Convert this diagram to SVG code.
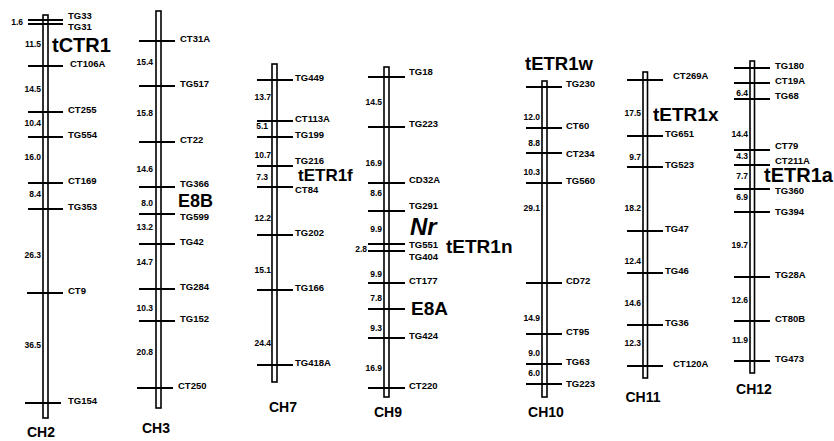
<svg xmlns="http://www.w3.org/2000/svg" width="834" height="441" viewBox="0 0 834 441">
<style>
.bar{fill:#fff;stroke:#000;stroke-width:1.6}
.tk{stroke:#000;stroke-width:2}
.m{font-family:"Liberation Sans",Arial,sans-serif;font-weight:bold;font-size:9.5px;fill:#000}
.d{font-family:"Liberation Sans",Arial,sans-serif;font-weight:bold;font-size:8.5px;fill:#000;text-anchor:end}
.g{font-family:"Liberation Sans",Arial,sans-serif;font-weight:bold;font-size:20px;fill:#000}
.ch{font-family:"Liberation Sans",Arial,sans-serif;font-weight:bold;font-size:14px;fill:#000;text-anchor:middle}
</style>
<rect width="834" height="441" fill="#fff"/>

<g id="CH2">
<rect class="bar" x="43" y="15" width="5" height="403"/>
<g class="tk">
<line x1="28" y1="20" x2="63" y2="20"/><line x1="28" y1="24" x2="63" y2="24"/>
<line x1="28" y1="66" x2="63" y2="66"/><line x1="28" y1="112" x2="63" y2="112"/>
<line x1="28" y1="137" x2="63" y2="137"/><line x1="28" y1="183" x2="63" y2="183"/>
<line x1="28" y1="209" x2="63" y2="209"/><line x1="27" y1="293" x2="63" y2="293"/>
<line x1="25" y1="403" x2="61" y2="403"/>
</g>
<text class="m" x="68" y="19">TG33</text><text class="m" x="68" y="30">TG31</text>
<text class="m" x="70" y="67">CT106A</text><text class="m" x="68" y="113">CT255</text>
<text class="m" x="68" y="138">TG554</text><text class="m" x="68" y="184">CT169</text>
<text class="m" x="68" y="210">TG353</text><text class="m" x="68" y="294">CT9</text>
<text class="m" x="68" y="404">TG154</text>
<text class="d" x="23" y="25">1.6</text><text class="d" x="41" y="47">11.5</text>
<text class="d" x="41" y="92">14.5</text><text class="d" x="41" y="126">10.4</text>
<text class="d" x="41" y="160">16.0</text><text class="d" x="41" y="197">8.4</text>
<text class="d" x="41" y="258">26.3</text><text class="d" x="41" y="348">36.5</text>
<text class="g" x="52" y="52">tCTR1</text>
<text class="ch" x="41" y="437">CH2</text>
</g>

<g id="CH3">
<rect class="bar" x="156" y="11" width="5" height="397"/>
<g class="tk">
<line x1="139" y1="41" x2="175" y2="41"/><line x1="139" y1="86" x2="175" y2="86"/>
<line x1="139" y1="142" x2="175" y2="142"/><line x1="139" y1="187" x2="175" y2="187"/>
<line x1="139" y1="214" x2="175" y2="214"/><line x1="139" y1="244" x2="175" y2="244"/>
<line x1="139" y1="289" x2="175" y2="289"/><line x1="139" y1="321" x2="175" y2="321"/>
<line x1="137" y1="388" x2="173" y2="388"/>
</g>
<text class="m" x="180" y="42">CT31A</text><text class="m" x="180" y="87">TG517</text>
<text class="m" x="180" y="143">CT22</text><text class="m" x="180" y="186.5">TG366</text>
<text class="m" x="180" y="220">TG599</text><text class="m" x="180" y="245">TG42</text>
<text class="m" x="180" y="290">TG284</text><text class="m" x="180" y="322">TG152</text>
<text class="m" x="178" y="389">CT250</text>
<text class="d" x="153" y="65">15.4</text><text class="d" x="153" y="116">15.8</text>
<text class="d" x="153" y="172">14.6</text><text class="d" x="153" y="206">8.0</text>
<text class="d" x="153" y="230">13.2</text><text class="d" x="153" y="265">14.7</text>
<text class="d" x="153" y="311">10.3</text><text class="d" x="153" y="355">20.8</text>
<text class="g" x="178" y="206.5" style="font-size:18px">E8B</text>
<text class="ch" x="156" y="433">CH3</text>
</g>

<g id="CH7">
<rect class="bar" x="272" y="64" width="5" height="318"/>
<g class="tk">
<line x1="257" y1="80" x2="293" y2="80"/><line x1="257" y1="121" x2="293" y2="121"/>
<line x1="257" y1="137" x2="293" y2="137"/><line x1="257" y1="166" x2="293" y2="166"/>
<line x1="257" y1="187" x2="293" y2="187"/><line x1="257" y1="235" x2="293" y2="235"/>
<line x1="257" y1="290" x2="293" y2="290"/><line x1="257" y1="365" x2="293" y2="365"/>
</g>
<text class="m" x="295" y="81">TG449</text><text class="m" x="295" y="122">CT113A</text>
<text class="m" x="295" y="138">TG199</text><text class="m" x="295" y="164">TG216</text>
<text class="m" x="295" y="193">CT84</text><text class="m" x="295" y="236">TG202</text>
<text class="m" x="295" y="291">TG166</text><text class="m" x="295" y="366">TG418A</text>
<text class="d" x="271" y="100">13.7</text><text class="d" x="268" y="129">5.1</text>
<text class="d" x="271" y="158">10.7</text><text class="d" x="268" y="180">7.3</text>
<text class="d" x="271" y="221">12.2</text><text class="d" x="271" y="273">15.1</text>
<text class="d" x="271" y="346">24.4</text>
<text class="g" x="298" y="181" style="font-size:17px">tETR1f</text>
<text class="ch" x="283" y="412">CH7</text>
</g>

<g id="CH9">
<rect class="bar" x="384" y="67" width="5" height="330"/>
<g class="tk">
<line x1="368" y1="77" x2="405" y2="77"/><line x1="368" y1="127" x2="405" y2="127"/>
<line x1="368" y1="183" x2="405" y2="183"/><line x1="368" y1="211" x2="405" y2="211"/>
<line x1="368" y1="244" x2="405" y2="244"/><line x1="368" y1="251" x2="405" y2="251"/>
<line x1="368" y1="283" x2="405" y2="283"/><line x1="368" y1="309" x2="405" y2="309"/>
<line x1="368" y1="338" x2="405" y2="338"/><line x1="368" y1="388" x2="405" y2="388"/>
</g>
<text class="m" x="409" y="75">TG18</text><text class="m" x="409" y="127">TG223</text>
<text class="m" x="409" y="183">CD32A</text><text class="m" x="409" y="209">TG291</text>
<text class="m" x="409" y="247.5">TG551</text><text class="m" x="409" y="260">TG404</text>
<text class="m" x="409" y="284">CT177</text><text class="m" x="409" y="339">TG424</text>
<text class="m" x="409" y="389">CT220</text>
<text class="d" x="382" y="105">14.5</text><text class="d" x="382" y="166">16.9</text>
<text class="d" x="382" y="196">8.6</text><text class="d" x="382" y="232">9.9</text>
<text class="d" x="367" y="252">2.8</text><text class="d" x="382" y="277">9.9</text>
<text class="d" x="382" y="301">7.8</text><text class="d" x="382" y="331">9.3</text>
<text class="d" x="382" y="371">16.9</text>
<text class="g" x="410" y="235" style="font-size:24px;font-style:italic">Nr</text>
<text class="g" x="446" y="253" style="font-size:19px">tETR1n</text>
<text class="g" x="411" y="315" style="font-size:19px">E8A</text>
<text class="ch" x="388" y="417">CH9</text>
</g>

<g id="CH10">
<rect class="bar" x="542" y="81" width="5" height="316"/>
<g class="tk">
<line x1="526" y1="87" x2="562" y2="87"/><line x1="526" y1="128" x2="562" y2="128"/>
<line x1="526" y1="153" x2="562" y2="153"/><line x1="526" y1="183" x2="562" y2="183"/>
<line x1="526" y1="283" x2="562" y2="283"/><line x1="526" y1="334" x2="562" y2="334"/>
<line x1="526" y1="364" x2="562" y2="364"/><line x1="526" y1="384" x2="562" y2="384"/>
</g>
<text class="m" x="566" y="87">TG230</text><text class="m" x="566" y="129">CT60</text>
<text class="m" x="566" y="157">CT234</text><text class="m" x="566" y="184">TG560</text>
<text class="m" x="566" y="284">CD72</text><text class="m" x="566" y="335">CT95</text>
<text class="m" x="566" y="365">TG63</text><text class="m" x="566" y="387">TG223</text>
<text class="d" x="540" y="120">12.0</text><text class="d" x="540" y="146">8.8</text>
<text class="d" x="540" y="175">10.3</text><text class="d" x="540" y="211">29.1</text>
<text class="d" x="540" y="321">14.9</text><text class="d" x="540" y="356">9.0</text>
<text class="d" x="540" y="376">6.0</text>
<text class="g" x="525" y="70" style="font-size:18.5px">tETR1w</text>
<text class="ch" x="546" y="417">CH10</text>
</g>

<g id="CH11">
<rect class="bar" x="643" y="72" width="4.5" height="306"/>
<g class="tk">
<line x1="627" y1="80" x2="663" y2="80"/><line x1="627" y1="136" x2="663" y2="136"/>
<line x1="627" y1="167" x2="663" y2="167"/><line x1="627" y1="231" x2="663" y2="231"/>
<line x1="627" y1="273" x2="663" y2="273"/><line x1="627" y1="325" x2="663" y2="325"/>
<line x1="627" y1="366" x2="663" y2="366"/>
</g>
<text class="m" x="673" y="79">CT269A</text><text class="m" x="665" y="137">TG651</text>
<text class="m" x="665" y="168">TG523</text><text class="m" x="665" y="232">TG47</text>
<text class="m" x="665" y="274">TG46</text><text class="m" x="665" y="326">TG36</text>
<text class="m" x="673" y="367">CT120A</text>
<text class="d" x="641" y="116">17.5</text><text class="d" x="641" y="160">9.7</text>
<text class="d" x="641" y="211">18.2</text><text class="d" x="641" y="264">12.4</text>
<text class="d" x="641" y="306">14.6</text><text class="d" x="641" y="346">12.3</text>
<text class="g" x="653" y="121" style="font-size:19px">tETR1x</text>
<text class="ch" x="643" y="402">CH11</text>
</g>

<g id="CH12">
<rect class="bar" x="750" y="61" width="4.5" height="312"/>
<g class="tk">
<line x1="734" y1="68" x2="770" y2="68"/><line x1="734" y1="83" x2="770" y2="83"/>
<line x1="734" y1="99" x2="770" y2="99"/><line x1="734" y1="150" x2="770" y2="150"/>
<line x1="734" y1="165" x2="770" y2="165"/><line x1="734" y1="189" x2="770" y2="189"/>
<line x1="734" y1="212" x2="770" y2="212"/><line x1="734" y1="277" x2="770" y2="277"/>
<line x1="734" y1="321" x2="770" y2="321"/><line x1="734" y1="361" x2="770" y2="361"/>
</g>
<text class="m" x="775" y="68.5">TG180</text><text class="m" x="775" y="83.5">CT19A</text>
<text class="m" x="775" y="99">TG68</text><text class="m" x="775" y="148.5">CT79</text>
<text class="m" x="775" y="163.5">CT211A</text><text class="m" x="775" y="194">TG360</text>
<text class="m" x="775" y="215">TG394</text><text class="m" x="775" y="278">TG28A</text>
<text class="m" x="775" y="322">CT80B</text><text class="m" x="775" y="362">TG473</text>
<text class="d" x="748" y="96">6.4</text><text class="d" x="748" y="137">14.4</text>
<text class="d" x="748" y="159">4.3</text><text class="d" x="748" y="179">7.7</text>
<text class="d" x="748" y="200">6.9</text><text class="d" x="748" y="248">19.7</text>
<text class="d" x="748" y="303">12.6</text><text class="d" x="748" y="343">11.9</text>
<text class="g" x="764" y="182">tETR1a</text>
<text class="ch" x="754" y="394">CH12</text>
</g>
</svg>
